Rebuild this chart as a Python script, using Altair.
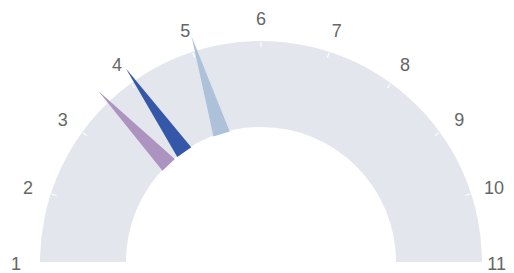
import math
import altair as alt
import pandas as pd

# ---- data ----
gauge_min = 1
gauge_max = 11
tick_values = [2, 3, 4, 5, 6, 7, 8, 9, 10]
label_values = [2, 3, 4, 5, 6, 7, 8, 9, 10]
left_end_label = [1]
right_end_label = [11]
needle_names = ["A", "B", "C"]
needle_values = [3.58, 4.06, 5.05]
needle_colors = ["#ac93c0", "#3457a8", "#adc1d9"]

band_df = pd.DataFrame({"start": [gauge_min], "end": [gauge_max]})
tick_df = pd.DataFrame({"v": tick_values})
label_df = pd.DataFrame({"v": label_values})
left_df = pd.DataFrame({"v": left_end_label})
right_df = pd.DataFrame({"v": right_end_label})
needle_df = pd.DataFrame({"name": needle_names, "value": needle_values})

W, H = 498, 265
theta_scale = alt.Scale(domain=[gauge_min, gauge_max], range=[1.5 * math.pi, 2.5 * math.pi])
x_scale = alt.Scale(domain=[-253, 245], nice=False, zero=False)
y_scale = alt.Scale(domain=[-11, 254], nice=False, zero=False)
cx = alt.X(datum=0, scale=x_scale, axis=None)
cy = alt.Y(datum=0, scale=y_scale, axis=None)
label_y = alt.Y(datum=-2.7, scale=y_scale, axis=None)

band = alt.Chart(band_df).mark_arc(color="#e3e7ed").encode(
    theta=alt.Theta("start:Q", scale=theta_scale, stack=None),
    theta2="end:Q",
    radius=alt.value(221),
    radius2=alt.value(135),
    x=cx,
    y=cy,
)

ticks = alt.Chart(tick_df).transform_calculate(
    t0="datum.v - 0.008", t1="datum.v + 0.008"
).mark_arc(color="white").encode(
    theta=alt.Theta("t0:Q", scale=theta_scale, stack=None),
    theta2="t1:Q",
    radius=alt.value(220),
    radius2=alt.value(215),
    x=cx,
    y=cy,
)


def label_layer(df, align, dy):
    return alt.Chart(df).mark_text(
        font="Liberation Sans", fontSize=18, color="#666666",
        align=align, baseline="middle", dy=dy
    ).encode(
        theta=alt.Theta("v:Q", scale=theta_scale, stack=None),
        radius=alt.value(245),
        text=alt.Text("v:Q", format="d"),
        x=cx,
        y=label_y,
    )


labels = label_layer(label_df, "center", 0)
label_left = label_layer(left_df, "center", 0)
label_right = label_layer(right_df, "right", 0)

needle_shape = "M -0.036 -0.568 L 0 -1 L 0.036 -0.568 Z"
needles = alt.Chart(needle_df).mark_point(
    shape=needle_shape, filled=True, opacity=1, strokeWidth=0
).encode(
    x=cx,
    y=cy,
    size=alt.value(472 * 472),
    angle=alt.Angle("value:Q", scale=alt.Scale(domain=[gauge_min, gauge_max], range=[270, 450])),
    color=alt.Color("name:N", scale=alt.Scale(domain=needle_names, range=needle_colors), legend=None),
)

chart = alt.layer(band, ticks, needles, labels, label_left, label_right).properties(
    width=W, height=H, padding=0, autosize="none", background="white"
).configure_view(stroke=None)

chart.save("out.html", embed_options={"renderer": "svg", "actions": False})
